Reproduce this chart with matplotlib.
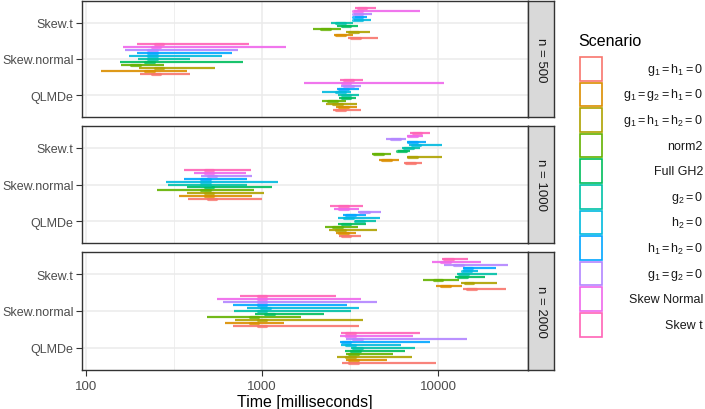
import matplotlib
matplotlib.use("Agg")
import matplotlib.pyplot as plt
import numpy as np
from matplotlib.patches import Rectangle

plt.rcParams["font.family"] = ["Liberation Sans", "DejaVu Sans"]
plt.rcParams["mathtext.fontset"] = "custom"
plt.rcParams["mathtext.rm"] = "Liberation Sans"
plt.rcParams["mathtext.it"] = "Liberation Sans:italic"

methods = ["QLMDe", "Skew.normal", "Skew.t"]
panels = ["n = 500", "n = 1000", "n = 2000"]
scenarios = [r"$\mathrm{g_1 = h_1 = 0}$", r"$\mathrm{g_1 = g_2 = h_1 = 0}$",
             r"$\mathrm{g_1 = h_1 = h_2 = 0}$", "norm2", "Full GH2",
             r"$\mathrm{g_2 = 0}$", r"$\mathrm{h_2 = 0}$", r"$\mathrm{h_1 = h_2 = 0}$",
             r"$\mathrm{g_1 = g_2 = 0}$", "Skew Normal", "Skew t"]
colors = ["#F8766D", "#DB8E00", "#AEA200", "#64B200", "#00BD5C", "#00C1A7",
          "#00BADE", "#00A6FF", "#B385FF", "#EF67EB", "#FF63B6"]

# time in ms, per scenario (same order as above): low, high, mode
n500_qlmde_lo = [2530, 2630, 2310, 2192, 2740, 2710, 2192, 2668, 2810, 1732, 2775]
n500_qlmde_hi = [3650, 3467, 3467, 3000, 3420, 3560, 3205, 3560, 3650, 10810, 3750]
n500_qlmde_md = [2800, 2900, 2700, 2500, 3000, 3000, 2800, 2900, 3100, 3000, 3100]
n500_sn_lo = [203, 122, 200, 158, 156, 197, 175, 195, 167, 162, 195]
n500_sn_hi = [390, 375, 541, 277, 780, 390, 593, 675, 730, 1368, 844]
n500_sn_md = [250, 230, 260, 190, 230, 240, 240, 240, 240, 250, 260]
n500_st_lo = [3080, 2566, 3000, 1950, 2668, 2466, 3333, 3377, 3333, 3333, 3377]
n500_st_hi = [4560, 3290, 4110, 2810, 3510, 3290, 4160, 3950, 4217, 7900, 4443]
n500_st_md = [3400, 2800, 3300, 2300, 3000, 2800, 3500, 3500, 3500, 3500, 3700]

n1000_qlmde_lo = [2740, 2630, 2404, 2280, 2710, 3377, 2710, 2884, 3510, 2566, 2434]
n1000_qlmde_hi = [3650, 3420, 4500, 3510, 3900, 4443, 4680, 3900, 4745, 3560, 3750]
n1000_qlmde_md = [3000, 2900, 2800, 2700, 3000, 3600, 3100, 3200, 3800, 2900, 2900]
n1000_sn_lo = [380, 338, 375, 253, 375, 292, 285, 360, 450, 411, 360]
n1000_sn_hi = [1000, 877, 1026, 900, 1140, 822, 1233, 822, 877, 811, 866]
n1000_sn_md = [520, 500, 500, 480, 500, 480, 480, 480, 520, 500, 500]
n1000_st_lo = [6410, 4620, 6670, 4217, 5930, 6240, 6840, 6670, 5070, 6670, 6930]
n1000_st_hi = [8110, 6000, 10540, 5410, 6930, 7900, 10540, 8550, 6580, 8220, 9010]
n1000_st_md = [7000, 5100, 7200, 4600, 6200, 6800, 7500, 7200, 5700, 7200, 7600]

n2000_qlmde_lo = [2850, 3000, 2668, 3000, 2960, 3205, 2810, 2775, 3000, 2775, 2810]
n2000_qlmde_hi = [9740, 5130, 7110, 5550, 6490, 7400, 6160, 9010, 14620, 7210, 7900]
n2000_qlmde_md = [3300, 3300, 3200, 3300, 3400, 3500, 3200, 3000, 3500, 3200, 3200]
n2000_sn_lo = [684, 616, 703, 487, 912, 693, 822, 684, 600, 555, 750]
n2000_sn_hi = [3560, 1334, 3750, 1666, 2250, 3205, 3560, 3040, 4500, 3650, 2630]
n2000_sn_md = [1000, 900, 1000, 900, 1100, 1000, 1050, 1000, 1000, 1000, 1000]
n2000_st_lo = [13870, 9740, 13510, 8220, 12500, 12820, 13870, 13870, 10810, 9250, 10540]
n2000_st_hi = [24330, 13680, 21630, 13150, 18500, 21630, 16870, 21360, 25000, 17550, 14800]
n2000_st_md = [15500, 11000, 15000, 10000, 13800, 14000, 14500, 14800, 13000, 11000, 11500]

data = [
    [(n500_qlmde_lo, n500_qlmde_hi, n500_qlmde_md), (n500_sn_lo, n500_sn_hi, n500_sn_md),
     (n500_st_lo, n500_st_hi, n500_st_md)],
    [(n1000_qlmde_lo, n1000_qlmde_hi, n1000_qlmde_md), (n1000_sn_lo, n1000_sn_hi, n1000_sn_md),
     (n1000_st_lo, n1000_st_hi, n1000_st_md)],
    [(n2000_qlmde_lo, n2000_qlmde_hi, n2000_qlmde_md), (n2000_sn_lo, n2000_sn_hi, n2000_sn_md),
     (n2000_st_lo, n2000_st_hi, n2000_st_md)],
]

W, H = 705, 410
fig = plt.figure(figsize=(W / 100, H / 100), dpi=100)


def box(x0, y0, x1, y1):
    # pixel box (top-left origin) -> figure rect
    return [x0 / W, 1 - y1 / H, (x1 - x0) / W, (y1 - y0) / H]


panel_y = [(2, 118), (127, 244), (253, 371)]
px_left, px_right, strip_right = 82, 528, 554
border = "#333333"
grid = "#EBEBEB"
nsc = len(scenarios)
offsets = -0.45 + 0.9 * (np.arange(nsc) + 0.5) / nsc

for p, (y0, y1) in enumerate(panel_y):
    ax = fig.add_axes(box(px_left, y0, px_right, y1))
    ax.set_xscale("log")
    ax.set_xlim(94.9, 32450)
    ax.set_ylim(0.4, 3.6)
    ax.set_xticks([100, 1000, 10000])
    ax.set_xticks([316.2, 3162], minor=True)
    ax.set_yticks([1, 2, 3])
    ax.set_yticklabels(methods)
    ax.grid(True, which="major", color=grid, lw=1.1, zorder=0)
    ax.grid(True, which="minor", axis="x", color=grid, lw=0.55, zorder=0)
    ax.tick_params(axis="x", which="minor", length=0)
    ax.tick_params(axis="y", length=4, width=0.8, color=border, labelsize=9,
                   labelcolor="#4D4D4D", pad=2)
    if p < 2:
        ax.tick_params(axis="x", which="major", length=0, labelbottom=False)
    else:
        ax.set_xticklabels(["100", "1000", "10000"])
        ax.tick_params(axis="x", which="major", length=4, width=0.8, color=border,
                       labelsize=9.5, labelcolor="#4D4D4D", pad=3)
        ax.set_xlabel("Time [milliseconds]", fontsize=11.5, labelpad=2)
    for s in ax.spines.values():
        s.set_color(border)
        s.set_linewidth(1.0)
    for m in range(3):
        lo, hi, md = data[p][m]
        for i in range(nsc):
            y = m + 1 + offsets[i]
            ax.plot([lo[i], hi[i]], [y, y], color=colors[i], lw=1.6,
                    solid_capstyle="butt", alpha=0.9, zorder=3)
            ax.plot([md[i] / 1.06, md[i] * 1.06], [y, y], color=colors[i], lw=2.3,
                    solid_capstyle="round", alpha=0.8, zorder=3)

    sax = fig.add_axes(box(px_right, y0, strip_right, y1))
    sax.set_xticks([])
    sax.set_yticks([])
    sax.set_facecolor("#D9D9D9")
    for s in sax.spines.values():
        s.set_color(border)
        s.set_linewidth(1.0)
    sax.text(0.5, 0.5, panels[p], rotation=-90, ha="center", va="center",
             fontsize=9.5, color="#1A1A1A", transform=sax.transAxes)

# legend
fig.text(578 / W, 1 - 42 / H, "Scenario", fontsize=11.5, ha="left", va="center")
key_top, key_h = 57, 25.6
for i in range(nsc):
    ty = key_top + i * key_h
    rect = Rectangle(((580) / W, 1 - (ty + key_h - 1) / H), 22 / W, (key_h - 2) / H,
                     transform=fig.transFigure, facecolor="white",
                     edgecolor=colors[i], lw=1.2)
    fig.add_artist(rect)
    fig.text(703 / W, 1 - (ty + key_h / 2) / H, scenarios[i], fontsize=9,
             ha="right", va="center", color="#1A1A1A")

fig.savefig("out.png", dpi=100)
